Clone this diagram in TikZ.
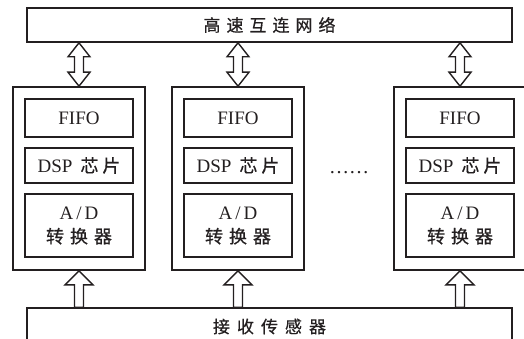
\documentclass[tikz,border=0pt]{standalone}
\usepackage{fontspec}
\setmainfont{Liberation Serif}
\newfontfamily\cjk{Noto Sans CJK SC}[FakeBold=0.6]
\usetikzlibrary{calc}
\definecolor{ink}{HTML}{231F20}
\newcommand\gp[1]{\hspace{#1pt}}
\tikzset{
  box/.style={draw=ink, line width=1.6pt, inner sep=0pt, anchor=center, text=ink},
  netbox/.style={box, minimum width=485pt, minimum height=34pt, font=\cjk\fontsize{17}{20}\selectfont},
  unitbox/.style={box, minimum width=132pt, minimum height=183pt},
  fifobox/.style={box, minimum width=108pt, minimum height=38pt, font=\fontsize{19}{22}\selectfont},
  dspbox/.style={box, minimum width=108pt, minimum height=35pt, font=\fontsize{19}{22}\selectfont},
  adbox/.style={box, minimum width=108pt, minimum height=63pt, align=center, font=\fontsize{19}{25}\selectfont},
  fatarrow/.style={draw=ink, line width=1.4pt, fill=white, line join=miter},
}
\newcommand\dspline{DSP\gp{8}{\cjk\fontsize{18}{20}\selectfont 芯\gp{4}片}}
\newcommand\adline{A\gp{3}/\gp{3}D\\[-1pt]{\cjk\fontsize{18}{20}\selectfont 转\gp{6}换\gp{6}器}}
\begin{document}
\begin{tikzpicture}[x=1pt, y=-1pt]
  \useasboundingbox (0,0) rectangle (524,339);
  % network and sensor bars
  \node[netbox] (net) at (269.5,25) {高\gp{6}速\gp{6}互\gp{6}连\gp{6}网\gp{6}络};
  \node[netbox, minimum height=37pt] (sens) at (269.5,326.5) {接\gp{7}收\gp{7}传\gp{7}感\gp{7}器};
  % processing units
  \foreach \i/\x in {1/79, 2/238, 3/460} {
    \node[unitbox] (u\i) at (\x,178.5) {};
    \node[fifobox] (f\i) at (\x,118) {FIFO};
    \node[dspbox] (d\i) at (\x,165.5) {\dspline};
    \node[adbox] (a\i) at (\x,225.5) {\adline};
  }
  \node[font=\fontsize{20}{22}\selectfont, inner sep=0pt, text=ink] (dots) at (349,173) {……};
  % bidirectional links to the network
  \foreach \i in {1,2,3} {
    \draw[fatarrow] (u\i.north |- net.south) -- ++(-11,14) -- ++(6.5,0)
      -- ($(u\i.north)+(-4.5,-14)$) -- ++(-6.5,0) -- (u\i.north)
      -- ++(11,-14) -- ++(-6.5,0)
      -- ($(u\i.north |- net.south)+(4.5,14)$) -- ++(6.5,0) -- cycle;
  }
  % data paths from the sensor array
  \foreach \i in {1,2,3} {
    \draw[fatarrow] (u\i.south) -- ++(-14,14) -- ++(9.5,0)
      -- ($(u\i.south |- sens.north)+(-4.5,0)$)
      -- ($(u\i.south |- sens.north)+(4.5,0)$)
      -- ($(u\i.south)+(4.5,14)$) -- ++(9.5,0) -- cycle;
  }
\end{tikzpicture}
\end{document}
